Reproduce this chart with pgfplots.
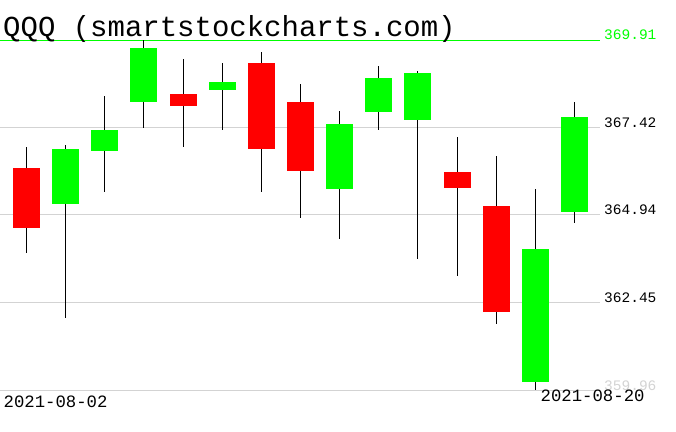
\documentclass[border=0pt]{standalone}
\usepackage{pgfplots}
\pgfplotsset{compat=1.18}
\usepackage{pgfplotstable}
\usepackage{fontspec}
\setmainfont{Liberation Mono}

\definecolor{upgreen}{HTML}{00FF00}
\definecolor{downred}{HTML}{FF0000}
\definecolor{gridgray}{HTML}{D3D3D3}

% QQQ daily candles, 2021-08-02 .. 2021-08-20 (x = trading day index)
\pgfplotstableread{
x  o      h      l      c
1  365.25 366.93 362.01 366.81
2  366.75 368.32 365.59 367.35
3  368.15 369.91 367.41 369.68
5  368.49 369.26 367.35 368.72
8  365.67 367.89 364.25 367.52
9  367.86 369.17 367.35 368.83
10 367.64 369.03 363.69 368.97
13 360.19 365.67 359.96 363.97
14 365.02 368.15 364.71 367.72
}\updays

\pgfplotstableread{
x  o      h      l      c
0  366.27 366.87 363.86 364.57
4  368.38 369.37 366.87 368.03
6  369.26 369.57 365.59 366.81
7  368.15 368.66 364.85 366.19
11 366.16 367.15 363.20 365.70
12 365.19 366.61 361.84 362.18
}\downdays

\pgfplotsset{
  wick/.style={draw=none, mark=none, forget plot,
    error bars/.cd, y dir=both, y explicit, error mark=none,
    error bar style={draw=black, line width=1pt}},
  body/.style={draw=none, mark=none, forget plot,
    error bars/.cd, y dir=both, y explicit, error mark=none,
    error bar style={draw=#1, line width=27pt}},
}

\begin{document}
\begin{tikzpicture}
\useasboundingbox (0,-41pt) rectangle (676pt,390pt);
\begin{axis}[
    at={(0,0)}, anchor=south west,
    scale only axis,
    width=600pt, height=350pt,
    xmin=-0.677, xmax=14.65,
    ymin=359.96, ymax=369.91,
    axis line style={draw=none},
    major tick length=0pt,
    xtick=\empty,
    ytick={359.96,362.45,364.94,367.42},
    yticklabels={{\color{gridgray}359.96},362.45,364.94,367.42},
    extra y ticks={369.91},
    extra y tick labels={{\color{upgreen}369.91}},
    extra y tick style={grid style={upgreen, line width=0.9pt}},
    ymajorgrids,
    grid style={gridgray, line width=0.8pt},
    yticklabel pos=right,
    yticklabel style={anchor=base west, inner sep=0pt, xshift=4pt,
        font=\fontsize{14.5}{14.5}\selectfont},
    clip=false,
]

% wicks (high-low)
\addplot[wick] table[x=x, y expr={(\thisrow{h}+\thisrow{l})/2},
    y error plus expr={(\thisrow{h}-\thisrow{l})/2},
    y error minus expr={(\thisrow{h}-\thisrow{l})/2}] {\updays};
\addplot[wick] table[x=x, y expr={(\thisrow{h}+\thisrow{l})/2},
    y error plus expr={(\thisrow{h}-\thisrow{l})/2},
    y error minus expr={(\thisrow{h}-\thisrow{l})/2}] {\downdays};

% bodies (open-close)
\addplot[body=upgreen] table[x=x, y expr={(\thisrow{o}+\thisrow{c})/2},
    y error plus expr={abs(\thisrow{c}-\thisrow{o})/2},
    y error minus expr={abs(\thisrow{c}-\thisrow{o})/2}] {\updays};
\addplot[body=downred] table[x=x, y expr={(\thisrow{o}+\thisrow{c})/2},
    y error plus expr={abs(\thisrow{c}-\thisrow{o})/2},
    y error minus expr={abs(\thisrow{c}-\thisrow{o})/2}] {\downdays};

\node[anchor=base west, inner sep=0pt, font=\fontsize{29}{29}\selectfont]
    at (rel axis cs:0,1) [xshift=3pt, yshift=3pt] {QQQ (smartstockcharts.com)};
\node[anchor=base west, inner sep=0pt, font=\fontsize{17.3}{17.3}\selectfont]
    at (rel axis cs:0,0) [xshift=3.5pt, yshift=-17pt] {2021-08-02};
\node[anchor=base west, inner sep=0pt, font=\fontsize{17.3}{17.3}\selectfont]
    at (rel axis cs:0,0) [xshift=540.5pt, yshift=-11pt] {2021-08-20};
\end{axis}
\end{tikzpicture}
\end{document}
